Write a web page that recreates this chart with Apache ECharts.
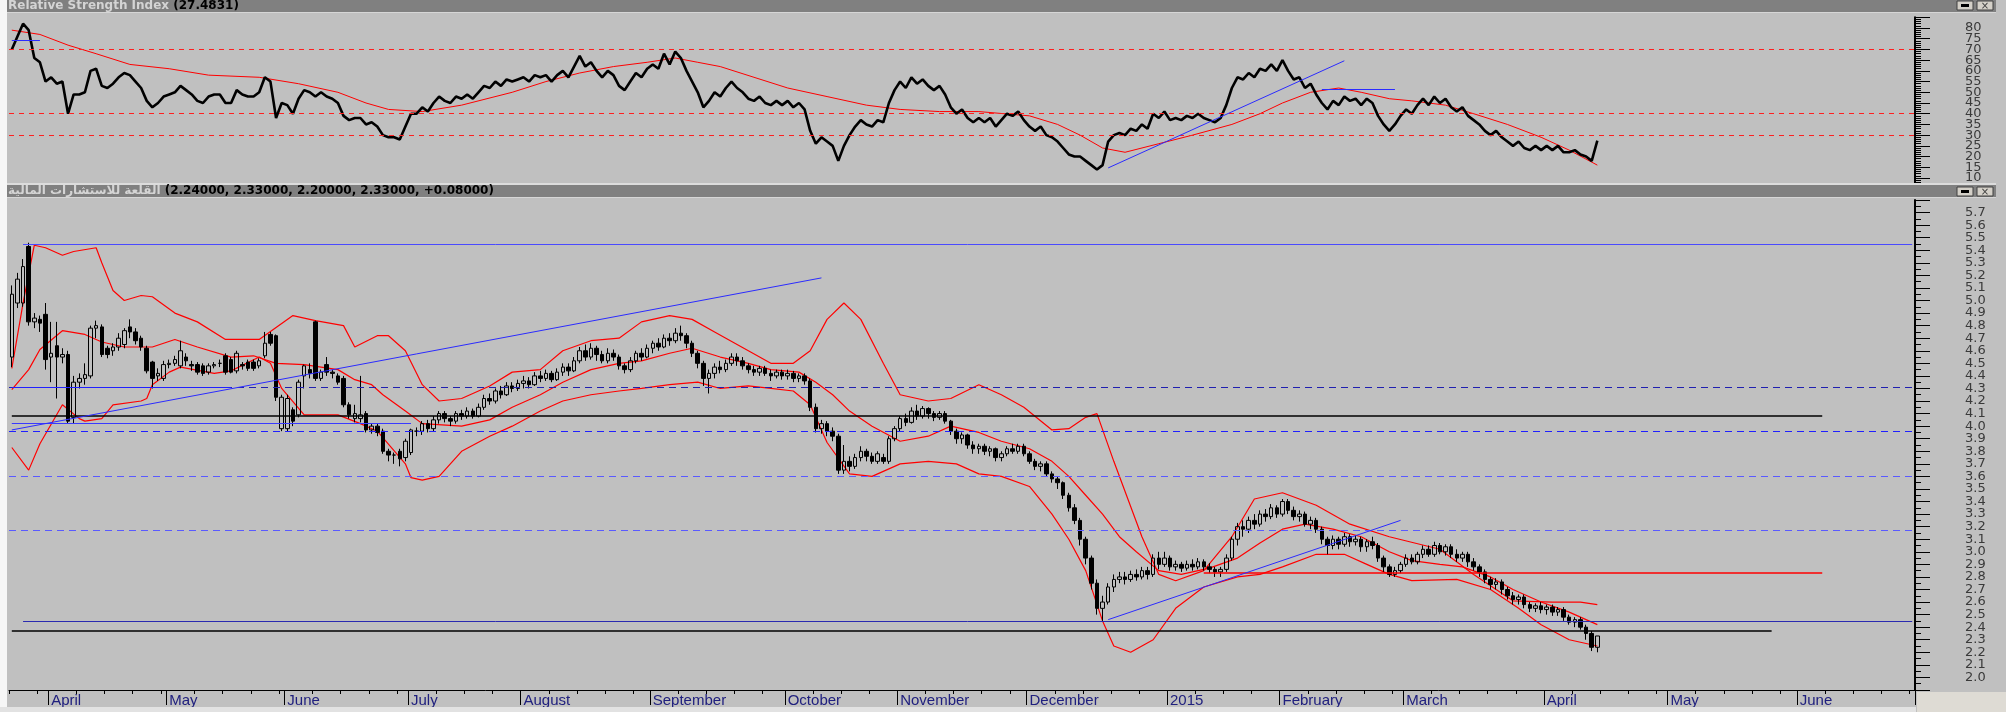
<!DOCTYPE html>
<html>
<head>
<meta charset="utf-8">
<title>Citadel Capital - daily</title>
<script src="https://cdn.jsdelivr.net/npm/echarts@6.0.0/dist/echarts.min.js"></script>
<style>
  html, body { margin: 0; padding: 0; background: #c0c0c0; }
  #chart { width: 2006px; height: 712px; }
</style>
</head>
<body>
<div id="chart"></div>
<script>
// trading days per month on the x axis (first month is partial, last three are empty space)
var monthNames = ['March', 'April', 'May', 'June', 'July', 'August', 'September', 'October',
  'November', 'December', '2015', 'February', 'March', 'April', 'May', 'June'];
var monthBars = [7, 21, 21, 22, 20, 23, 24, 20, 23, 25, 20, 22, 25, 22, 23, 21];

// daily bars: [open, close, low, high]
var bars = [
  [4.55,5.05,4.47,5.12],[4.98,5.17,4.94,5.22],[4.98,5.27,4.95,5.33],[5.43,4.83,4.80,5.46],[4.83,4.86,4.78,4.90],
  [4.85,4.82,4.75,4.88],[4.89,4.53,4.45,4.98],[4.55,4.58,4.35,4.83],[4.64,4.55,4.22,4.83],[4.55,4.57,4.50,4.62],
  [4.57,4.04,4.02,4.60],[4.07,4.35,4.02,4.40],[4.35,4.38,4.30,4.42],[4.38,4.41,4.33,4.50],[4.40,4.78,4.38,4.80],
  [4.78,4.80,4.70,4.84],[4.79,4.57,4.55,4.81],[4.62,4.57,4.54,4.64],[4.60,4.63,4.56,4.66],[4.63,4.70,4.60,4.74],
  [4.65,4.76,4.62,4.78],[4.79,4.75,4.70,4.85],[4.75,4.68,4.65,4.78],[4.70,4.63,4.60,4.72],[4.62,4.44,4.42,4.64],
  [4.51,4.38,4.30,4.52],[4.40,4.42,4.36,4.46],[4.38,4.49,4.36,4.52],[4.49,4.50,4.46,4.53],[4.50,4.53,4.48,4.56],
  [4.48,4.60,4.46,4.68],[4.55,4.52,4.48,4.58],[4.49,4.48,4.44,4.52],[4.49,4.43,4.41,4.51],[4.48,4.42,4.40,4.50],
  [4.43,4.48,4.41,4.50],[4.48,4.49,4.46,4.51],[4.50,4.50,4.47,4.53],[4.56,4.43,4.41,4.58],[4.53,4.43,4.42,4.55],
  [4.44,4.58,4.42,4.60],[4.49,4.48,4.45,4.51],[4.51,4.46,4.44,4.53],[4.51,4.46,4.44,4.53],[4.48,4.52,4.46,4.54],
  [4.56,4.66,4.54,4.75],[4.73,4.66,4.64,4.75],[4.72,4.23,4.20,4.73],[3.98,4.23,3.96,4.25],[3.98,4.22,3.96,4.25],
  [4.13,4.04,4.00,4.15],[4.09,4.35,4.07,4.37],[4.40,4.48,4.30,4.49],[4.45,4.42,4.38,4.50],[4.83,4.38,4.36,4.84],
  [4.38,4.43,4.36,4.45],[4.49,4.43,4.40,4.55],[4.43,4.42,4.38,4.45],[4.40,4.35,4.33,4.42],[4.38,4.17,4.15,4.40],
  [4.17,4.09,4.06,4.19],[4.06,4.10,4.03,4.17],[4.06,4.09,4.03,4.40],[4.10,3.97,3.95,4.12],[3.97,4.00,3.94,4.02],
  [4.00,3.95,3.92,4.02],[3.96,3.80,3.78,3.98],[3.80,3.77,3.72,3.82],[3.77,3.77,3.70,3.79],[3.80,3.74,3.68,3.82],
  [3.75,3.88,3.72,3.90],[3.79,3.97,3.77,3.98],[3.96,3.96,3.92,3.99],[3.96,4.02,3.93,4.04],[4.02,3.98,3.95,4.05],
  [3.98,4.05,3.96,4.08],[4.05,4.10,4.02,4.12],[4.10,4.06,4.03,4.12],[4.06,4.04,4.00,4.08],[4.04,4.10,4.02,4.12],
  [4.10,4.08,4.05,4.13],[4.08,4.12,4.06,4.15],[4.12,4.08,4.06,4.14],[4.08,4.15,4.07,4.18],[4.15,4.22,4.13,4.25],
  [4.22,4.20,4.17,4.26],[4.20,4.28,4.18,4.30],[4.28,4.25,4.22,4.32],[4.25,4.32,4.24,4.35],[4.32,4.30,4.27,4.35],
  [4.30,4.34,4.28,4.37],[4.34,4.36,4.30,4.40],[4.36,4.33,4.30,4.39],[4.33,4.40,4.32,4.43],[4.40,4.38,4.35,4.44],
  [4.38,4.42,4.36,4.45],[4.42,4.37,4.35,4.44],[4.37,4.43,4.36,4.46],[4.43,4.47,4.40,4.50],[4.47,4.44,4.40,4.50],
  [4.44,4.52,4.43,4.55],[4.52,4.60,4.50,4.63],[4.60,4.55,4.52,4.65],[4.55,4.62,4.53,4.66],[4.62,4.57,4.52,4.64],
  [4.57,4.52,4.50,4.60],[4.52,4.58,4.50,4.62],[4.58,4.55,4.52,4.61],[4.55,4.48,4.45,4.57],[4.48,4.45,4.42,4.50],
  [4.45,4.52,4.43,4.55],[4.52,4.58,4.50,4.60],[4.58,4.55,4.52,4.62],[4.55,4.62,4.54,4.65],[4.62,4.66,4.58,4.68],
  [4.66,4.63,4.60,4.70],[4.63,4.70,4.62,4.73],[4.70,4.68,4.64,4.74],[4.68,4.74,4.66,4.78],[4.74,4.72,4.68,4.80],
  [4.72,4.66,4.62,4.74],[4.66,4.58,4.55,4.68],[4.58,4.50,4.46,4.60],[4.50,4.38,4.32,4.52],[4.38,4.42,4.26,4.45],
  [4.42,4.47,4.38,4.50],[4.47,4.45,4.42,4.52],[4.45,4.50,4.43,4.53],[4.50,4.55,4.48,4.58],[4.55,4.52,4.48,4.58],
  [4.52,4.48,4.45,4.55],[4.48,4.45,4.42,4.50],[4.45,4.43,4.40,4.48],[4.43,4.46,4.40,4.48],[4.46,4.42,4.40,4.48],
  [4.42,4.40,4.36,4.45],[4.40,4.43,4.38,4.45],[4.43,4.40,4.37,4.45],[4.40,4.42,4.37,4.45],[4.42,4.38,4.35,4.44],
  [4.38,4.40,4.35,4.42],[4.40,4.36,4.33,4.42],[4.36,4.15,4.12,4.38],[4.15,3.98,3.95,4.18],[3.98,4.02,3.94,4.05],
  [4.02,3.96,3.92,4.04],[3.96,3.92,3.88,3.99],[3.92,3.65,3.62,3.94],[3.65,3.72,3.62,3.85],[3.72,3.68,3.64,3.76],
  [3.68,3.75,3.66,3.78],[3.75,3.80,3.72,3.84],[3.80,3.76,3.72,3.82],[3.76,3.72,3.70,3.79],[3.72,3.78,3.70,3.80],
  [3.75,3.72,3.70,3.78],[3.72,3.90,3.70,3.92],[3.90,3.98,3.88,4.00],[3.98,4.06,3.96,4.08],[4.06,4.03,4.00,4.10],
  [4.03,4.12,4.02,4.15],[4.12,4.08,4.05,4.17],[4.08,4.14,4.06,4.16],[4.14,4.10,4.06,4.15],[4.10,4.07,4.04,4.12],
  [4.07,4.10,4.05,4.12],[4.10,4.04,4.02,4.12],[4.04,3.96,3.93,4.05],[3.96,3.90,3.86,3.98],[3.90,3.93,3.86,3.95],
  [3.93,3.85,3.82,3.94],[3.85,3.82,3.78,3.88],[3.82,3.84,3.78,3.86],[3.84,3.80,3.77,3.86],[3.80,3.82,3.76,3.84],
  [3.82,3.75,3.72,3.83],[3.75,3.78,3.72,3.80],[3.78,3.82,3.76,3.84],[3.82,3.80,3.78,3.86],[3.80,3.84,3.78,3.86],
  [3.84,3.78,3.76,3.86],[3.78,3.72,3.70,3.80],[3.72,3.68,3.65,3.74],[3.68,3.70,3.64,3.72],[3.70,3.62,3.60,3.72],
  [3.62,3.58,3.55,3.64],[3.58,3.55,3.50,3.60],[3.55,3.45,3.42,3.56],[3.45,3.35,3.32,3.47],[3.35,3.25,3.22,3.38],
  [3.25,3.10,3.05,3.27],[3.10,2.95,2.90,3.12],[2.95,2.75,2.70,2.97],[2.75,2.55,2.50,2.78],[2.55,2.60,2.45,2.65],
  [2.60,2.72,2.58,2.75],[2.72,2.78,2.68,2.82],[2.78,2.80,2.75,2.84],[2.80,2.78,2.74,2.84],[2.78,2.82,2.76,2.85],
  [2.82,2.80,2.77,2.86],[2.80,2.85,2.78,2.88],[2.85,2.82,2.78,2.88],[2.82,2.95,2.80,2.98],[2.95,2.90,2.86,3.00],
  [2.90,2.95,2.88,3.00],[2.95,2.88,2.85,2.97],[2.88,2.90,2.85,2.93],[2.90,2.87,2.84,2.92],[2.87,2.90,2.85,2.93],
  [2.90,2.88,2.85,2.94],[2.88,2.92,2.86,2.95],[2.92,2.88,2.85,2.94],[2.88,2.86,2.83,2.91],[2.86,2.84,2.80,2.88],
  [2.84,2.86,2.80,2.88],[2.86,2.95,2.84,2.98],[2.95,3.10,2.93,3.12],[3.10,3.20,3.05,3.23],[3.20,3.18,3.12,3.25],
  [3.18,3.25,3.15,3.28],[3.25,3.22,3.18,3.30],[3.22,3.30,3.20,3.33],[3.30,3.28,3.24,3.34],[3.28,3.35,3.26,3.38],
  [3.35,3.30,3.27,3.37],[3.30,3.40,3.28,3.42],[3.40,3.33,3.30,3.42],[3.33,3.28,3.25,3.36],[3.28,3.30,3.24,3.33],
  [3.30,3.22,3.20,3.32],[3.22,3.25,3.18,3.28],[3.25,3.18,3.15,3.27],[3.18,3.10,3.06,3.20],[3.10,3.05,2.98,3.12],
  [3.05,3.10,3.02,3.13],[3.10,3.06,3.02,3.12],[3.06,3.12,3.04,3.15],[3.12,3.08,3.04,3.14],[3.08,3.10,3.05,3.13],
  [3.10,3.04,3.00,3.12],[3.04,3.08,3.00,3.10],[3.08,3.05,3.02,3.12],[3.05,2.95,2.92,3.07],[2.95,2.88,2.84,2.97],
  [2.88,2.82,2.80,2.90],[2.82,2.85,2.80,2.88],[2.85,2.90,2.83,2.92],[2.90,2.95,2.88,2.98],[2.95,2.92,2.90,2.98],
  [2.92,2.98,2.90,3.00],[2.98,3.02,2.95,3.05],[3.02,2.98,2.96,3.05],[2.98,3.05,2.96,3.08],[3.05,3.00,2.98,3.07],
  [3.00,3.04,2.97,3.06],[3.04,2.98,2.95,3.06],[2.98,2.95,2.92,3.02],[2.95,2.98,2.92,3.00],[2.98,2.92,2.88,3.00],
  [2.92,2.88,2.85,2.95],[2.88,2.84,2.80,2.90],[2.84,2.78,2.75,2.86],[2.78,2.74,2.70,2.80],[2.74,2.76,2.70,2.79],
  [2.76,2.70,2.66,2.78],[2.70,2.65,2.62,2.72],[2.65,2.62,2.58,2.68],[2.62,2.64,2.58,2.66],[2.64,2.58,2.55,2.66],
  [2.58,2.55,2.52,2.60],[2.55,2.57,2.52,2.59],[2.57,2.54,2.51,2.60],[2.54,2.56,2.50,2.58],[2.56,2.52,2.49,2.58],
  [2.52,2.54,2.49,2.56],[2.54,2.48,2.45,2.56],[2.48,2.44,2.42,2.50],[2.44,2.46,2.40,2.48],[2.46,2.40,2.38,2.48],
  [2.40,2.35,2.30,2.42],[2.35,2.24,2.21,2.37],[2.24,2.33,2.20,2.33]
];

// Bollinger bands: [bar index, price]
var bandUpper = [[0,4.46],[2,4.98],[4,5.44],[6,5.42],[9,5.36],[11,5.39],[15,5.42],[16,5.3],[18,5.08],[20,5.0],
  [23,5.04],[25,5.03],[29,4.9],[33,4.83],[38,4.69],[44,4.69],[50,4.88],[54,4.84],[59,4.8],[61,4.63],[65,4.72],
  [67,4.72],[70,4.6],[73,4.33],[76,4.2],[80,4.22],[85,4.32],[89,4.43],[94,4.45],[98,4.6],[103,4.68],[108,4.7],
  [112,4.83],[117,4.88],[121,4.85],[125,4.75],[131,4.6],[135,4.5],[139,4.5],[142,4.6],[145,4.85],[148,4.98],
  [151,4.85],[155,4.5],[158,4.25],[163,4.2],[167,4.22],[172,4.33],[176,4.25],[180,4.15],[185,3.97],[188,3.98],
  [191,4.07],[193,4.1],[196,3.72],[201,3.12],[204,2.82],[207,2.77],[212,2.85],[217,3.12],[221,3.42],[226,3.47],
  [232,3.37],[238,3.22],[245,3.12],[254,3.02],[260,2.82],[267,2.61],[274,2.6],[279,2.6],[282,2.58]];
var bandMid = [[0,4.29],[3,4.45],[5,4.61],[9,4.76],[13,4.73],[16,4.67],[20,4.63],[25,4.63],[29,4.69],[33,4.63],
  [39,4.55],[43,4.56],[47,4.5],[52,4.49],[58,4.45],[61,4.37],[64,4.33],[66,4.25],[70,4.12],[73,4.02],[80,4.0],
  [85,4.05],[89,4.15],[94,4.25],[98,4.35],[103,4.45],[108,4.5],[112,4.52],[117,4.58],[121,4.62],[126,4.55],
  [131,4.5],[135,4.45],[140,4.43],[143,4.35],[146,4.25],[149,4.12],[153,4.0],[158,3.88],[163,3.92],[167,4.0],
  [172,3.95],[176,3.88],[181,3.82],[185,3.72],[188,3.6],[191,3.45],[194,3.3],[197,3.12],[200,3.0],[204,2.85],
  [208,2.82],[213,2.87],[218,2.95],[222,3.07],[226,3.18],[230,3.22],[235,3.18],[240,3.12],[245,3.0],[249,2.93],
  [254,2.9],[258,2.88],[263,2.8],[267,2.7],[272,2.6],[277,2.52],[282,2.42]];
var bandLower = [[0,3.83],[3,3.65],[5,3.86],[9,4.17],[12,4.06],[13,4.04],[16,4.06],[18,4.17],[23,4.2],[24,4.22],
  [25,4.33],[28,4.43],[30,4.47],[36,4.42],[39,4.44],[44,4.55],[46,4.5],[48,4.3],[52,4.09],[58,4.09],[62,4.02],
  [65,3.96],[70,3.7],[71,3.59],[73,3.57],[76,3.6],[80,3.8],[85,3.92],[89,4.0],[94,4.12],[98,4.2],[103,4.25],
  [108,4.28],[112,4.3],[117,4.33],[122,4.35],[126,4.3],[131,4.32],[135,4.3],[139,4.28],[142,4.17],[145,3.87],
  [149,3.62],[153,3.6],[158,3.7],[163,3.72],[168,3.7],[172,3.62],[176,3.6],[181,3.52],[185,3.3],[188,3.1],
  [191,2.85],[194,2.45],[196,2.25],[199,2.2],[203,2.3],[207,2.55],[212,2.72],[218,2.8],[222,2.82],[226,2.88],
  [232,2.98],[237,2.98],[241,2.9],[245,2.82],[249,2.77],[257,2.78],[263,2.7],[268,2.55],[272,2.42],[277,2.3],
  [282,2.25]];

// RSI per bar
var rsi = [
  70,76,82,79,66,64,55,57,54,55, 40,49,49,50,60,61,53,52,54,57, 59,58,55,52,46,43,45,48,49,50,
  53,51,49,46,45,48,49,49,45,45, 51,49,48,48,50,57,55,38,45,44, 40,47,51,50,48,50,48,47,45,39,
  37,38,38,35,36,34,30,29,29,28, 34,40,40,43,41,45,48,46,45,48, 47,49,47,50,53,52,55,53,56,55,
  56,57,55,58,57,58,55,58,60,57, 62,67,62,64,60,57,60,58,53,51, 55,59,57,61,63,61,68,63,69,66,
  60,55,50,43,46,50,48,52,55,52, 50,47,46,48,45,44,46,44,46,43, 45,42,32,26,29,27,25,18,25,30,
  34,37,35,34,37,36,45,51,55,52, 57,54,56,53,51,53,49,43,40,42, 38,36,38,36,38,34,37,40,39,41,
  37,34,32,34,30,29,27,24,21,20, 20,18,16,14,16,27,30,31,30,33, 32,35,33,40,38,41,37,38,37,39,
  38,40,38,37,36,38,44,52,57,56, 59,57,61,60,63,60,65,60,56,57, 52,54,49,45,42,46,44,48,46,47,
  44,47,45,39,35,32,35,39,42,40, 44,47,44,48,45,47,43,41,43,39, 37,35,32,30,32,29,27,25,27,24,
  23,25,23,25,23,25,22,22,23,21, 20,18,27.48
];
// RSI moving average: [bar index, value]
var rsiAvg = [[0,79],[5,77],[10,72],[15,68],[21,63],[28,61],[35,58],[44,57],[51,54],[58,50],[63,45],[67,42],
  [73,41],[80,44],[89,50],[95,55],[101,59],[107,62],[113,64],[118,66],[122,64],[126,62],[132,57],[138,52],
  [145,48],[152,44],[158,42],[165,41],[172,41],[181,39],[186,35],[190,30],[194,24],[198,22],[204,26],[210,30],
  [217,35],[222,40],[226,45],[231,50],[236,52],[240,50],[245,47],[249,46],[255,44],[260,40],[266,35],[272,29],
  [277,23],[282,16]];

var rsiLevels = [70, 40, 30];
var priceTicks = { min: 1.9, max: 5.8, step: 0.1 };
var rsiTicks = { min: 5, max: 85, step: 5 };

// build the category axis from the month table
var categories = [];
var monthStart = {};
var weekTick = {};
monthNames.forEach(function (m, k) {
  for (var d = 0; d < monthBars[k]; d++) {
    var idx = categories.length;
    if (d === 0 && k > 0) monthStart[idx] = true;
    else if (d % 5 === 0) weekTick[idx] = true;
    categories.push(m + '|' + k + '|' + d);
  }
});
var last = categories.length - 1;

var chart = echarts.init(document.getElementById('chart'));

var FONT = 'DejaVu Sans';
var dashBlue = function (v, c) { return { yAxis: v, lineStyle: { color: c, type: [7, 5], width: 1 } }; };
var seg = function (x0, y0, x1, y1, c, w) {
  return [{ coord: [x0, y0], lineStyle: { color: c, width: w || 1, type: 'solid' } }, { coord: [x1, y1] }];
};

var rightAxis = function (grid, t, fmt, minorSplit) {
  return {
    type: 'value', gridIndex: grid, position: 'right',
    min: t.min, max: t.max, interval: t.step,
    axisLine: { show: true, lineStyle: { color: '#000', width: 2 } },
    axisTick: { show: true, length: 15, lineStyle: { color: '#000' } },
    minorTick: { show: true, splitNumber: minorSplit, length: 6, lineStyle: { color: '#000' } },
    splitLine: { show: false },
    axisLabel: { margin: 50, color: '#3a3a3a', fontFamily: FONT, fontSize: 13, formatter: fmt }
  };
};

chart.setOption({
  animation: false,
  backgroundColor: '#c0c0c0',
  grid: [
    { left: 9, right: 91, top: 17.3, height: 171.4 },
    { left: 9, right: 91, top: 200, height: 490 }
  ],
  xAxis: [
    { type: 'category', gridIndex: 0, data: categories, show: false },
    {
      type: 'category', gridIndex: 1, data: categories, position: 'bottom',
      axisLine: { show: true, lineStyle: { color: '#000', width: 1 } },
      axisTick: { show: true, length: 15, lineStyle: { color: '#000' },
        interval: function (i) { return !!monthStart[i]; } },
      axisLabel: {
        show: true, margin: 3, align: 'left', color: '#20207e', fontFamily: 'Liberation Sans', fontSize: 15,
        interval: function (i) { return !!monthStart[i]; },
        formatter: function (v) { return v.split('|')[0]; }
      },
      splitLine: { show: false }
    },
    {
      type: 'category', gridIndex: 1, data: categories, position: 'bottom',
      axisLine: { show: false },
      axisTick: { show: true, length: 4, lineStyle: { color: '#000' },
        interval: function (i) { return !!weekTick[i]; } },
      axisLabel: { show: false }, splitLine: { show: false }
    }
  ],
  yAxis: [
    rightAxis(0, rsiTicks, function (v) { return (v < 10 || v > 80) ? '' : String(v); }, 5),
    rightAxis(1, priceTicks, function (v) { return (v < 1.95 || v > 5.75) ? '' : v.toFixed(1); }, 2)
  ],
  series: [
    {
      type: 'line', name: 'RSI avg', xAxisIndex: 0, yAxisIndex: 0, data: rsiAvg,
      showSymbol: false, lineStyle: { color: '#ff0000', width: 1 }, z: 2,
      markLine: {
        silent: true, symbol: 'none', label: { show: false },
        data: rsiLevels.map(function (v) {
          return { yAxis: v, lineStyle: { color: '#ff2020', type: [5, 5], width: 1 } };
        }).concat([
          seg(195, 14.7, 237.4, 64.7, '#2b2bff'),
          seg(233, 51.4, 245.5, 51.4, '#2b2bff'),
          seg(0, 74.5, 5, 74.5, '#2b2bff')
        ])
      }
    },
    {
      type: 'line', name: 'RSI', xAxisIndex: 0, yAxisIndex: 0, data: rsi,
      showSymbol: false, lineStyle: { color: '#000', width: 2.6 }, z: 3
    },
    {
      type: 'line', name: 'upper', xAxisIndex: 1, yAxisIndex: 1, data: bandUpper,
      showSymbol: false, lineStyle: { color: '#ff0000', width: 1.2 }, z: 2
    },
    {
      type: 'line', name: 'lower', xAxisIndex: 1, yAxisIndex: 1, data: bandLower,
      showSymbol: false, lineStyle: { color: '#ff0000', width: 1.2 }, z: 2
    },
    {
      type: 'line', name: 'mid', xAxisIndex: 1, yAxisIndex: 1, data: bandMid,
      showSymbol: false, lineStyle: { color: '#ff0000', width: 1.2 }, z: 2,
      markLine: {
        silent: true, symbol: 'none', label: { show: false },
        data: [
          dashBlue(4.31, '#2020b0'),
          dashBlue(3.96, '#2020ff'),
          dashBlue(3.60, '#5a5aff'),
          dashBlue(3.17, '#5a5aff'),
          seg(1.5, 5.45, last, 5.45, '#4a4aff'),
          seg(0, 4.31, 39.4, 4.31, '#2020ff'),
          seg(0, 4.08, 321.6, 4.08, '#000', 1.5),
          seg(0, 4.02, 70.9, 4.02, '#3a3aff'),
          seg(211.8, 2.83, 321.6, 2.83, '#ff0000', 1.5),
          seg(1.5, 2.45, last, 2.45, '#2a2ab0'),
          seg(0, 2.37, 312.8, 2.37, '#000', 1.5),
          seg(0, 3.97, 144, 5.18, '#2b2bff'),
          seg(195, 2.46, 246.5, 3.25, '#2b2bff')
        ]
      }
    },
    {
      type: 'candlestick', name: 'price', xAxisIndex: 1, yAxisIndex: 1,
      data: bars, barWidth: 4, z: 4,
      itemStyle: { color: 'rgba(0,0,0,0)', color0: '#000', borderColor: '#000', borderColor0: '#000', borderWidth: 1 },
      markLine: {
        silent: true, symbol: 'none',
        lineStyle: { opacity: 0 },
        data: [{ yAxis: bars[bars.length - 1][1] }],
        label: {
          show: true, position: 'end', distance: 7,
          formatter: function () { return bars[bars.length - 1][1].toFixed(5); },
          color: '#00ff00', backgroundColor: '#000', borderColor: '#ffffff', borderWidth: 1,
          padding: [1, 3, 0, 3], fontFamily: FONT, fontSize: 14, lineHeight: 14
        }
      }
    }
  ],
  graphic: [
    { type: 'rect', z: 100, shape: { x: 0, y: 0, width: 7, height: 712 }, style: { fill: '#f6f6f6' } },
    { type: 'rect', z: 100, shape: { x: 0, y: 707, width: 1916, height: 5 }, style: { fill: '#e2e2e2' } },
    { type: 'rect', z: 100, shape: { x: 1917, y: 692, width: 89, height: 20 }, style: { fill: '#dedbd4' } },
    // RSI title bar
    { type: 'rect', z: 100, shape: { x: 7, y: 0, width: 1989, height: 12 }, style: { fill: '#808080' } },
    { type: 'rect', z: 100, shape: { x: 7, y: 12, width: 1989, height: 1 }, style: { fill: '#d6d6d6' } },
    {
      type: 'text', z: 101, x: 8, y: 6,
      style: {
        text: '{a|Relative Strength Index }{b|(27.4831)}', verticalAlign: 'middle',
        rich: {
          a: { fill: '#d4d4d4', fontFamily: FONT, fontWeight: 'bold', fontSize: 12 },
          b: { fill: '#000', fontFamily: FONT, fontWeight: 'bold', fontSize: 12 }
        }
      }
    },
    // price title bar
    { type: 'rect', z: 100, shape: { x: 7, y: 183, width: 1989, height: 2 }, style: { fill: '#dcdcdc' } },
    { type: 'rect', z: 100, shape: { x: 7, y: 185, width: 1989, height: 12 }, style: { fill: '#808080' } },
    { type: 'rect', z: 100, shape: { x: 7, y: 197, width: 1989, height: 1 }, style: { fill: '#d6d6d6' } },
    {
      type: 'text', z: 101, x: 8, y: 191,
      style: {
        text: '{a|القلعة للاستشارات المالية }{b|(2.24000, 2.33000, 2.20000, 2.33000, +0.08000)}',
        verticalAlign: 'middle',
        rich: {
          a: { fill: '#d4d4d4', fontFamily: FONT, fontWeight: 'bold', fontSize: 12 },
          b: { fill: '#000', fontFamily: FONT, fontWeight: 'bold', fontSize: 12 }
        }
      }
    },
    // window buttons
    { type: 'rect', z: 101, shape: { x: 1957, y: 1, width: 16, height: 9 }, style: { fill: '#d4d0c8', stroke: '#404040', lineWidth: 1 } },
    { type: 'rect', z: 102, shape: { x: 1961, y: 4, width: 8, height: 3 }, style: { fill: '#000' } },
    { type: 'rect', z: 101, shape: { x: 1977, y: 1, width: 16, height: 9 }, style: { fill: '#d4d0c8', stroke: '#404040', lineWidth: 1 } },
    { type: 'text', z: 102, x: 1985, y: 6, style: { text: '×', fill: '#404040', fontSize: 10, fontFamily: FONT, align: 'center', verticalAlign: 'middle' } },
    { type: 'rect', z: 101, shape: { x: 1957, y: 187, width: 16, height: 9 }, style: { fill: '#d4d0c8', stroke: '#404040', lineWidth: 1 } },
    { type: 'rect', z: 102, shape: { x: 1961, y: 190, width: 8, height: 3 }, style: { fill: '#000' } },
    { type: 'rect', z: 101, shape: { x: 1977, y: 187, width: 16, height: 9 }, style: { fill: '#d4d0c8', stroke: '#404040', lineWidth: 1 } },
    { type: 'text', z: 102, x: 1985, y: 192, style: { text: '×', fill: '#404040', fontSize: 10, fontFamily: FONT, align: 'center', verticalAlign: 'middle' } }
  ]
});
</script>
</body>
</html>
